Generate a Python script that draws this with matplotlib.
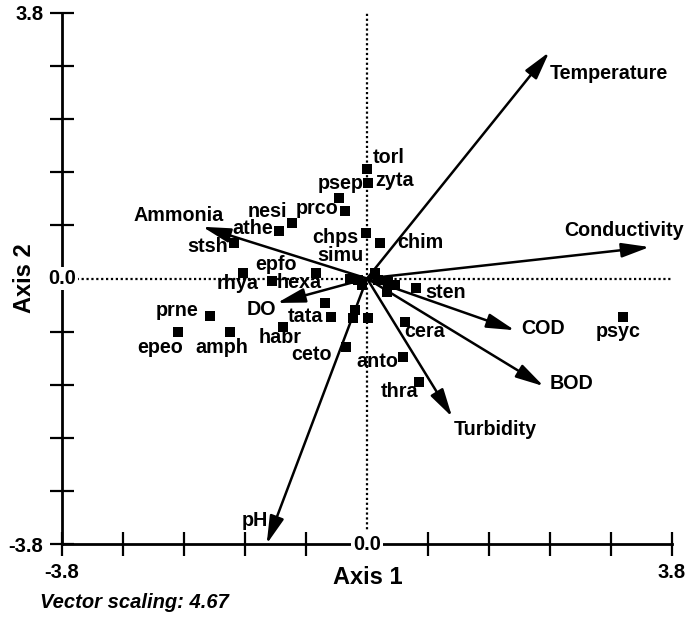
import numpy as np
import matplotlib
matplotlib.use("Agg")
import matplotlib.pyplot as plt

# ---------------- data ----------------
species = ["torl", "zyta", "psep", "prco", "nesi", "athe", "stsh", "chps", "simu",
           "chim", "epfo", "rhya", "hexa", "prne", "epeo", "amph", "tata", "habr",
           "ceto", "anto", "cera", "sten", "thra", "psyc"]
sp_x = [0.00, 0.01, -0.35, -0.27, -0.93, -1.10, -1.66, -0.01, -0.21,
        0.16, -1.54, -1.18, -0.64, -1.96, -2.35, -1.71, -0.45, -1.05,
        -0.26, 0.45, 0.47, 0.61, 0.65, 3.19]
sp_y = [1.57, 1.37, 1.15, 0.97, 0.79, 0.68, 0.51, 0.65, 0.00,
        0.51, 0.08, -0.04, 0.08, -0.54, -0.77, -0.77, -0.55, -0.69,
        -0.98, -1.12, -0.62, -0.14, -1.48, -0.55]

# unlabeled sites/points near the origin
other_x = [-0.11, -0.06, 0.10, 0.14, 0.26, 0.35, 0.25, -0.52, -0.15, -0.17, 0.01]
other_y = [-0.02, -0.09, 0.08, -0.02, -0.05, -0.09, -0.19, -0.35, -0.45, -0.57, -0.57]

variables = ["Temperature", "Conductivity", "Ammonia", "DO", "pH", "COD", "BOD", "Turbidity"]
vec_x = [2.27, 3.52, -2.05, -1.12, -1.25, 1.84, 2.20, 1.06]
vec_y = [3.24, 0.45, 0.74, -0.35, -3.80, -0.74, -1.54, -1.98]

axis_limit = 3.8
n_ticks = 11
x_label = "Axis 1"
y_label = "Axis 2"
note = "Vector scaling: 4.67"

# ---------------- label placement (style) ----------------
sp_off = {
    "torl": (6, 11, "left"), "zyta": (7, 2, "left"), "psep": (2, 15, "center"),
    "prco": (-7, 2, "right"), "nesi": (-5, 12, "right"), "athe": (-6, 2, "right"),
    "stsh": (-6, -4, "right"), "chps": (-8, -4, "right"), "simu": (-10, 23, "center"),
    "chim": (17, 0, "left"), "epfo": (12, 8, "left"), "rhya": (-14, -2, "right"),
    "hexa": (-16, -10, "center"), "prne": (-11, 6, "right"), "epeo": (-18, -15, "center"),
    "amph": (-8, -15, "center"), "tata": (-8, 0, "right"), "habr": (-3, -11, "center"),
    "ceto": (-14, -8, "right"), "anto": (-5, -5, "right"), "cera": (0, -10, "left"),
    "sten": (9, -4, "left"), "thra": (-1, -10, "right"), "psyc": (-5, -15, "center"),
}
vec_off = {
    "Temperature": (1, -21, "left"), "Conductivity": (-85, 17, "left"),
    "Ammonia": (-24, 11, "center"), "DO": (-16, -7, "center"),
    "pH": (-12, 24, "center"), "COD": (7, 2, "left"), "BOD": (6, 3, "left"),
    "Turbidity": (43, -13, "center"),
}

plt.rcParams["font.family"] = ["Liberation Sans", "DejaVu Sans"]
plt.rcParams["font.weight"] = "bold"

W, H = 685, 618
fig = plt.figure(figsize=(W / 100, H / 100), dpi=100)
ax = fig.add_axes([62 / W, (618 - 544) / H, 610 / W, 531 / H])
ax.set_xlim(-axis_limit, axis_limit)
ax.set_ylim(-axis_limit, axis_limit)

for s in ["top", "right"]:
    ax.spines[s].set_visible(False)
for s in ["left", "bottom"]:
    ax.spines[s].set_linewidth(2.0)

ticks = np.linspace(-axis_limit, axis_limit, n_ticks)
ticks = ticks[np.abs(ticks) > 1e-9]
labels = [f"{t:.1f}" if abs(abs(t) - axis_limit) < 1e-9 else "" for t in ticks]
ax.set_xticks(ticks)
ax.set_xticklabels(labels)
ax.set_yticks(ticks)
ax.set_yticklabels(labels)
ax.tick_params(direction="inout", length=17, width=1.6, labelsize=14.5, pad=5)
ax.tick_params(axis="x", pad=5)

# dotted zero lines
ax.axhline(0, color="black", linestyle=(0, (1, 1.2)), linewidth=1.6, zorder=1)
ax.axvline(0, color="black", linestyle=(0, (1, 1.2)), linewidth=1.6, zorder=1)

# zero labels sitting on the axis lines
bb = dict(facecolor="white", edgecolor="none", pad=1.5)
ax.text(0, -axis_limit, "0.0", ha="center", va="center", fontsize=14.5,
        bbox=bb, zorder=6, clip_on=False)
ax.text(-axis_limit, 0, "0.0", ha="center", va="center", fontsize=14.5,
        bbox=bb, zorder=6, clip_on=False)

# vectors
for name, vx, vy in zip(variables, vec_x, vec_y):
    ax.annotate("", xy=(vx, vy), xytext=(0, 0),
                arrowprops=dict(arrowstyle="-|>,head_length=0.85,head_width=0.22",
                                mutation_scale=20, color="black", lw=1.8,
                                shrinkA=0, shrinkB=0),
                zorder=3, annotation_clip=False)
    dx, dy, ha = vec_off[name]
    ax.annotate(name, xy=(vx, vy), xytext=(dx, dy), textcoords="offset pixels",
                ha=ha, va="center", fontsize=14.2, zorder=5, annotation_clip=False)

# points
ax.scatter(sp_x, sp_y, marker="s", s=52, color="black", zorder=4, linewidths=0)
ax.scatter(other_x, other_y, marker="s", s=52, color="black", zorder=4, linewidths=0)
for name, px, py in zip(species, sp_x, sp_y):
    dx, dy, ha = sp_off[name]
    ax.annotate(name, xy=(px, py), xytext=(dx, dy), textcoords="offset pixels",
                ha=ha, va="center", fontsize=14.2, zorder=5)

fig.text(368 / W, (618 - 578) / H, x_label, ha="center", va="center", fontsize=17)
fig.text(25 / W, (618 - 278) / H, y_label, ha="center", va="center", fontsize=17,
         rotation=90)
fig.text(40 / W, (618 - 603) / H, note, ha="left", va="center", fontsize=14.5,
         style="italic")

fig.savefig("out.png", dpi=100)
